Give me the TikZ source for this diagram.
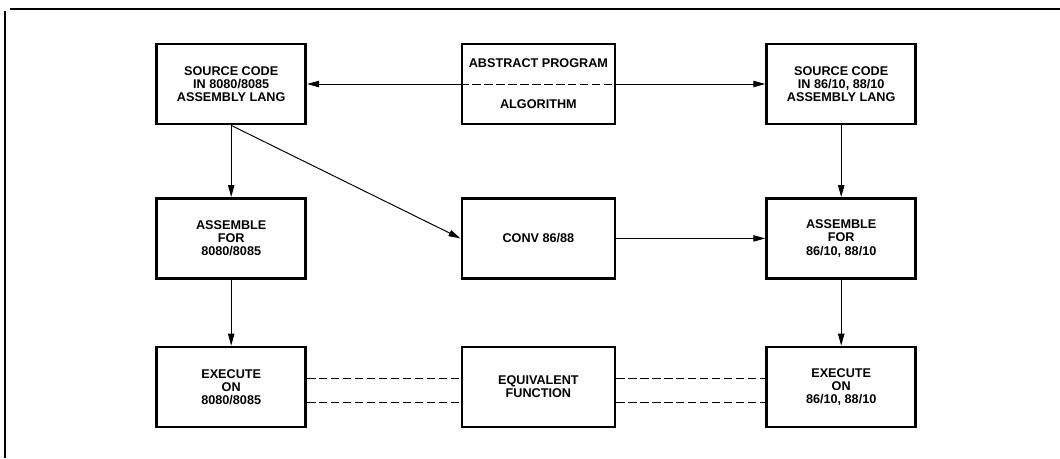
\documentclass[tikz,border=0pt]{standalone}
\usepackage{fontspec}
\setmainfont{Liberation Sans}
\usetikzlibrary{positioning,arrows.meta}

\begin{document}
\begin{tikzpicture}[
  kotak/.style={draw, rectangle, line width=2pt, align=center, minimum width=3.725cm, minimum height=2cm, font=\fontsize{9}{9.4}\selectfont\bfseries},
  panah/.style={-{Triangle[length=3mm, width=1.6mm]}, line width=0.7pt},
  putus/.style={dash pattern=on 6pt off 2.5pt, line width=0.7pt}]

  \useasboundingbox (0,0) rectangle (26.5,-11.45);

  % Garis bingkai atas dan kiri
  \draw[line width=1.3pt] (0.25,-0.22) -- (26.5,-0.22);
  \draw[line width=1pt] (0.125,-0.27) -- (0.125,-11.45);

  % Kolom kiri (8080/8085)
  \node[kotak] (SrcA) at (5.78,-2.1) {SOURCE CODE\\IN 8080/8085\\ASSEMBLY LANG};
  \node[kotak] (AsmA) at (5.78,-5.96) {ASSEMBLE\\FOR\\8080/8085};
  \node[kotak] (ExeA) at (5.78,-9.675) {EXECUTE\\ON\\8080/8085};

  % Kolom tengah
  \node[kotak, minimum width=3.825cm] (Abs) at (13.46,-2.1) {ABSTRACT PROGRAM\\[0.7cm]ALGORITHM};
  \node[kotak, minimum width=3.825cm] (Conv) at (13.46,-5.96) {CONV 86/88};
  \node[kotak, minimum width=3.825cm] (Equiv) at (13.46,-9.675) {EQUIVALENT\\FUNCTION};

  % Kolom kanan (86/10, 88/10)
  \node[kotak] (SrcB) at (21.03,-2.1) {SOURCE CODE\\IN 86/10, 88/10\\ASSEMBLY LANG};
  \node[kotak] (AsmB) at (21.03,-5.96) {ASSEMBLE\\FOR\\86/10, 88/10};
  \node[kotak] (ExeB) at (21.03,-9.675) {EXECUTE\\ON\\86/10, 88/10};

  % Program abstrak ke kedua kode sumber
  \draw[putus] (Abs.west) -- (Abs.east);
  \draw[panah] (Abs.west) -- (SrcA.east);
  \draw[panah] (Abs.east) -- (SrcB.west);

  % Alur perakitan dan konversi
  \draw[panah] (SrcA) -- (AsmA);
  \draw[panah] (AsmA) -- (ExeA);
  \draw[panah] (SrcA.south) -- (Conv.west);
  \draw[panah] (Conv) -- (AsmB);
  \draw[panah] (SrcB) -- (AsmB);
  \draw[panah] (AsmB) -- (ExeB);

  % Garis putus-putus fungsi setara
  \draw[putus] ([yshift=0.225cm]ExeA.east) -- ([yshift=0.225cm]Equiv.west);
  \draw[putus] ([yshift=-0.375cm]ExeA.east) -- ([yshift=-0.375cm]Equiv.west);
  \draw[putus] ([yshift=0.225cm]Equiv.east) -- ([yshift=0.225cm]ExeB.west);
  \draw[putus] ([yshift=-0.375cm]Equiv.east) -- ([yshift=-0.375cm]ExeB.west);

\end{tikzpicture}
\end{document}
